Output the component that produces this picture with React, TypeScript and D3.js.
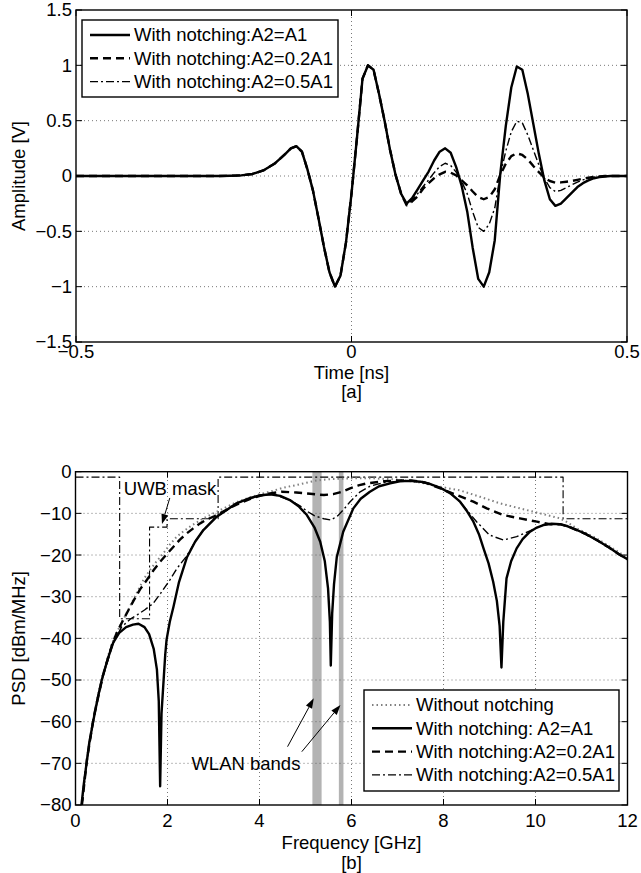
import React from "react";
import * as d3 from "d3";

// ---- panel [a]: time-domain pulses ----
const timeNs = [
  -0.5, -0.3, -0.24, -0.22, -0.2, -0.18, -0.16, -0.14, -0.12, -0.11, -0.1,
  -0.09, -0.08, -0.07, -0.06, -0.05, -0.04, -0.03, -0.02, -0.01, 0, 0.01,
  0.02, 0.03, 0.04, 0.05, 0.06, 0.07, 0.08, 0.09, 0.1, 0.11, 0.12, 0.13, 0.14,
  0.15, 0.16, 0.17, 0.18, 0.19, 0.2, 0.21, 0.22, 0.23, 0.24, 0.25, 0.26, 0.27,
  0.28, 0.29, 0.3, 0.31, 0.32, 0.33, 0.34, 0.35, 0.36, 0.37, 0.38, 0.39, 0.4,
  0.41, 0.42, 0.43, 0.44, 0.45, 0.46, 0.47, 0.5,
];
const ampA1 = [
  0, 0, 0, 0.002, 0.006, 0.018, 0.05, 0.11, 0.2, 0.25, 0.27, 0.22, 0.06,
  -0.13, -0.38, -0.64, -0.87, -1.0, -0.9, -0.6, -0.16, 0.35, 0.88, 1.0, 0.96,
  0.74, 0.5, 0.235, 0.01, -0.16, -0.25, -0.2, -0.12, -0.04, 0.04, 0.14, 0.22,
  0.25, 0.21, 0.08, -0.09, -0.32, -0.65, -0.93, -1.0, -0.87, -0.58, 0.02, 0.45,
  0.8, 0.99, 0.96, 0.74, 0.47, 0.2, -0.04, -0.21, -0.27, -0.25, -0.2, -0.15,
  -0.1, -0.065, -0.04, -0.02, -0.01, -0.004, 0, 0,
];
const ampA02 = [
  0, 0, 0, 0.002, 0.006, 0.018, 0.05, 0.11, 0.2, 0.25, 0.27, 0.22, 0.06,
  -0.13, -0.38, -0.64, -0.87, -1.0, -0.9, -0.6, -0.16, 0.35, 0.88, 1.0, 0.96,
  0.74, 0.5, 0.235, 0.01, -0.16, -0.265, -0.23, -0.185, -0.115, -0.065, -0.02,
  0.015, 0.038, 0.03, 0.005, -0.04, -0.085, -0.14, -0.19, -0.21, -0.19, -0.12,
  0.01, 0.11, 0.18, 0.205, 0.19, 0.15, 0.09, 0.035, -0.015, -0.045, -0.06,
  -0.058, -0.052, -0.045, -0.035, -0.025, -0.015, -0.008, -0.003, 0, 0, 0,
];
const ampA05 = [
  0, 0, 0, 0.002, 0.006, 0.018, 0.05, 0.11, 0.2, 0.25, 0.27, 0.22, 0.06,
  -0.13, -0.38, -0.64, -0.87, -1.0, -0.9, -0.6, -0.16, 0.35, 0.88, 1.0, 0.96,
  0.74, 0.5, 0.235, 0.01, -0.16, -0.26, -0.22, -0.16, -0.095, -0.035, 0.03,
  0.085, 0.115, 0.095, 0.035, -0.05, -0.16, -0.325, -0.465, -0.5, -0.435,
  -0.29, 0.01, 0.225, 0.4, 0.495, 0.48, 0.37, 0.235, 0.1, -0.02, -0.105, -0.14,
  -0.13, -0.105, -0.08, -0.055, -0.035, -0.02, -0.01, -0.005, 0, 0, 0,
];

// ---- panel [b]: PSD, [GHz, dBm/MHz] ----
const psdNoNotch: [number, number][] = [
  [0.14, -80], [0.19, -74.5], [0.25, -69], [0.32, -63.5], [0.4, -58.5],
  [0.5, -53], [0.6, -48.5], [0.7, -44.5], [0.8, -41], [0.9, -38.5],
  [1.0, -36.3], [1.1, -34.2], [1.2, -32], [1.3, -29.8], [1.4, -27.6],
  [1.5, -25.5], [1.62, -23.6], [1.75, -21.7], [1.91, -19.6], [2.05, -17.5],
  [2.2, -15.6], [2.35, -14.3], [2.5, -13.1], [2.78, -11.2], [3.07, -9.6],
  [3.5, -7.3], [4.0, -5.4], [4.23, -4.8], [4.5, -3.9], [4.8, -3.2],
  [5.0, -2.7], [5.24, -2.1], [5.5, -1.8], [6.0, -1.6], [6.5, -1.6],
  [7.0, -1.9], [7.5, -2.6], [7.92, -3.6], [8.36, -4.5], [8.79, -6],
  [9.23, -7.6], [9.66, -8.8], [10.1, -10], [10.53, -11.2], [10.7, -12.2],
  [10.9, -13.6], [11.33, -16], [11.84, -19.5], [12, -20.7],
];
const psdA1: [number, number][] = [
  [0.13, -80], [0.18, -75], [0.24, -70], [0.3, -65], [0.39, -59.6],
  [0.48, -54.5], [0.57, -50], [0.7, -45], [0.82, -41], [0.95, -38.7],
  [1.1, -37.3], [1.25, -36.7], [1.37, -36.5], [1.5, -37.3], [1.6, -39],
  [1.7, -42.5], [1.77, -47.5], [1.81, -55], [1.84, -75.5], [1.87, -58],
  [1.91, -51], [1.95, -44], [1.98, -40.3], [2.05, -36], [2.13, -32.4],
  [2.25, -26.5], [2.42, -20.6], [2.6, -16.8], [2.78, -14], [3.07, -10.8],
  [3.5, -7.6], [3.8, -6.3], [4.0, -5.7], [4.23, -5.4], [4.45, -5.8],
  [4.66, -6.8], [4.85, -8.3], [5.03, -10.4], [5.2, -13.5], [5.32, -16.8],
  [5.42, -21.5], [5.49, -28], [5.53, -36], [5.55, -46.5], [5.58, -34],
  [5.62, -27], [5.68, -20.5], [5.82, -14.4], [6.04, -8.8], [6.2, -6.5],
  [6.4, -4.8], [6.6, -3.5], [6.84, -2.8], [7.05, -2.3], [7.27, -2.2],
  [7.5, -2.4], [7.7, -2.9], [7.92, -3.8], [8.15, -5.2], [8.36, -7.2],
  [8.5, -9.3], [8.65, -12], [8.77, -15], [8.87, -18.4], [8.98, -22],
  [9.08, -26.4], [9.16, -31], [9.22, -37], [9.26, -47], [9.3, -36],
  [9.37, -25.6], [9.47, -21.5], [9.59, -18.4], [9.72, -16.2], [9.88, -14.4],
  [10.03, -13.4], [10.17, -12.8], [10.35, -12.5], [10.53, -12.6],
  [10.7, -13.1], [10.9, -14], [11.1, -15], [11.33, -16.4], [11.6, -18.2],
  [11.84, -20], [12, -21],
];
const psdA02: [number, number][] = [
  [0.14, -80], [0.25, -69], [0.4, -58.7], [0.6, -48.8], [0.8, -41.4],
  [0.9, -38.6], [1.04, -35.5], [1.26, -31], [1.4, -28.3], [1.55, -26],
  [1.7, -23.6], [1.84, -21.6], [2.0, -19.6], [2.13, -18], [2.27, -16.3],
  [2.42, -14.8], [2.56, -13.6], [2.71, -12.4], [2.85, -11.5], [3.0, -10.8],
  [3.2, -9.6], [3.5, -7.9], [3.8, -6.5], [4.16, -5.3], [4.48, -4.8],
  [4.8, -5.0], [5.1, -5.3], [5.4, -5.6], [5.6, -5.4], [5.8, -4.8],
  [5.97, -4.0], [6.15, -3.3], [6.33, -2.8], [6.7, -2.3], [7.0, -2.1],
  [7.3, -2.1], [7.6, -2.6], [8.0, -4.3], [8.29, -5.6], [8.65, -7.2],
  [8.94, -8.8], [9.3, -10.4], [9.66, -11.2], [10.03, -12], [10.31, -12.6],
  [10.53, -12.6], [10.7, -13.1], [10.9, -14], [11.1, -15], [11.33, -16.4],
  [11.6, -18.2], [11.84, -20], [12, -21],
];
const psdA05: [number, number][] = [
  [0.14, -80], [0.25, -69.2], [0.4, -58.9], [0.6, -49], [0.8, -41.6],
  [1.0, -37.3], [1.2, -35.3], [1.35, -34.3], [1.5, -33.2], [1.69, -31.6],
  [1.85, -29.2], [2.05, -26], [2.2, -23.3], [2.42, -20.2], [2.6, -16.8],
  [2.78, -14], [3.07, -10.8], [3.5, -7.6], [4.0, -5.7], [4.3, -5.4],
  [4.66, -6.8], [4.88, -8.2], [5.05, -9.6], [5.2, -10.6], [5.4, -11.3],
  [5.55, -11.6], [5.7, -10.6], [5.85, -8.8], [5.97, -7.2], [6.18, -4.9],
  [6.4, -3.5], [6.7, -2.6], [7.0, -2.3], [7.27, -2.2], [7.5, -2.4],
  [7.7, -2.9], [7.92, -3.8], [8.15, -5.2], [8.36, -7.2], [8.55, -9.8],
  [8.72, -12], [9.0, -15.2], [9.3, -16.4], [9.59, -15.6], [9.88, -14.2],
  [10.03, -13.4], [10.17, -12.8], [10.35, -12.5], [10.53, -12.6],
  [10.7, -13.1], [10.9, -14], [11.1, -15], [11.33, -16.4], [11.6, -18.2],
  [11.84, -20], [12, -21],
];

// FCC indoor mask (shifted)
const uwbMaskFreq = [0, 0.96, 0.96, 1.61, 1.61, 1.99, 1.99, 3.1, 3.1, 10.6, 10.6, 12];
const uwbMaskDb = [-1.3, -1.3, -35.3, -35.3, -13.3, -13.3, -11.3, -11.3, -1.3, -1.3, -11.3, -11.3];
const wlanBands = [
  [5.15, 5.35],
  [5.725, 5.825],
];

const topXTicks = [-0.5, 0, 0.5];
const topYTicks = [-1.5, -1, -0.5, 0, 0.5, 1, 1.5];
const botXTicks = [0, 2, 4, 6, 8, 10, 12];
const botYTicks = [-80, -70, -60, -50, -40, -30, -20, -10, 0];

const topLegend = [
  "With notching:A2=A1",
  "With notching:A2=0.2A1",
  "With notching:A2=0.5A1",
];
const botLegend = [
  "Without notching",
  "With notching: A2=A1",
  "With notching:A2=0.2A1",
  "With notching:A2=0.5A1",
];

const font = "'Liberation Sans', Arial, Helvetica, sans-serif";
const fs = 18.5;
const fmt = d3.format("~g");

const lineStyles: Record<string, any> = {
  solid: { stroke: "#000", strokeWidth: 2.4 },
  dashed: { stroke: "#000", strokeWidth: 2.4, strokeDasharray: "8 5" },
  dashDot: { stroke: "#000", strokeWidth: 1.4, strokeDasharray: "8 3 2 3" },
  dotted: { stroke: "#808080", strokeWidth: 2, strokeDasharray: "1.5 3" },
};

const Grid = ({ x, y, xTicks, yTicks }: any) => {
  const [x0, x1] = x.range();
  const [y0, y1] = y.range();
  return (
    <g stroke="#555" strokeWidth={0.8} strokeDasharray="1 3">
      {xTicks
        .filter((t: number) => x(t) > x0 + 1 && x(t) < x1 - 1)
        .map((t: number) => (
          <line key={"gx" + t} x1={x(t)} x2={x(t)} y1={y0} y2={y1} />
        ))}
      {yTicks
        .filter((t: number) => y(t) < y0 - 1 && y(t) > y1 + 1)
        .map((t: number) => (
          <line key={"gy" + t} x1={x0} x2={x1} y1={y(t)} y2={y(t)} />
        ))}
    </g>
  );
};

const Axes = ({ x, y, xTicks, yTicks, xLabelY }: any) => {
  const [x0, x1] = x.range();
  const [y0, y1] = y.range();
  const tick = 6;
  return (
    <g fontFamily={font} fontSize={fs} fill="#000">
      <rect x={x0} y={y1} width={x1 - x0} height={y0 - y1}
        fill="none" stroke="#000" strokeWidth={1.4} />
      {xTicks.map((t: number) => (
        <g key={"tx" + t}>
          <line x1={x(t)} x2={x(t)} y1={y0} y2={y0 - tick} stroke="#000" strokeWidth={1} />
          <line x1={x(t)} x2={x(t)} y1={y1} y2={y1 + tick} stroke="#000" strokeWidth={1} />
          <text x={x(t)} y={xLabelY} textAnchor="middle">{fmt(t)}</text>
        </g>
      ))}
      {yTicks.map((t: number) => (
        <g key={"ty" + t}>
          <line x1={x0} x2={x0 + tick} y1={y(t)} y2={y(t)} stroke="#000" strokeWidth={1} />
          <line x1={x1} x2={x1 - tick} y1={y(t)} y2={y(t)} stroke="#000" strokeWidth={1} />
          <text x={x0 - 4} y={y(t)} dy="0.35em" textAnchor="end">{fmt(t)}</text>
        </g>
      ))}
    </g>
  );
};

const Legend = ({ x, y, w, h, labels, styles }: any) => {
  const rowH = 23.3;
  return (
    <g fontFamily={font} fontSize={fs}>
      <rect x={x} y={y} width={w} height={h} fill="#fff" stroke="#000" strokeWidth={1.4} />
      {labels.map((l: string, i: number) => {
        const cy = y + 15 + i * rowH;
        return (
          <g key={l}>
            <line x1={x + 8} x2={x + 48} y1={cy} y2={cy} fill="none" {...lineStyles[styles[i]]} />
            <text x={x + 52} y={cy} dy="0.35em">{l}</text>
          </g>
        );
      })}
    </g>
  );
};

const Arrow = ({ x1, y1, x2, y2 }: any) => {
  const a = Math.atan2(y2 - y1, x2 - x1);
  const L = 10, w = 3.5;
  const bx = x2 - L * Math.cos(a), by = y2 - L * Math.sin(a);
  const pts = [
    [x2, y2],
    [bx + w * Math.sin(a), by - w * Math.cos(a)],
    [bx - w * Math.sin(a), by + w * Math.cos(a)],
  ];
  return (
    <g>
      <line x1={x1} y1={y1} x2={bx} y2={by} stroke="#000" strokeWidth={1} />
      <polygon points={pts.map((p) => p.join(",")).join(" ")} fill="#000" />
    </g>
  );
};

export default function App() {
  // panel [a]
  const xT = d3.scaleLinear().domain([-0.5, 0.5]).range([76, 627]);
  const yT = d3.scaleLinear().domain([-1.5, 1.5]).range([342, 10]);
  const lineT = (vals: number[]) =>
    d3.line<number>().x((_, i) => xT(timeNs[i])).y((v) => yT(v))(vals) || "";

  // panel [b]
  const xF = d3.scaleLinear().domain([0, 12]).range([75.5, 627.5]);
  const yF = d3.scaleLinear().domain([-80, 0]).range([805, 471.7]);
  const lineF = d3.line<[number, number]>().x((d) => xF(d[0])).y((d) => yF(d[1]));
  const maskPath =
    d3.line<number>().x((f) => xF(f)).y((_, i) => yF(uwbMaskDb[i]))(uwbMaskFreq) || "";

  return (
    <svg width={641} height={873} style={{ position: "absolute", left: 0, top: 0, background: "#fff" }}>
      <defs>
        <clipPath id="clipT"><rect x={76} y={10} width={551} height={332} /></clipPath>
        <clipPath id="clipF"><rect x={75.5} y={471.7} width={552} height={333.3} /></clipPath>
      </defs>

      {/* ---------- [a] ---------- */}
      <Grid x={xT} y={yT} xTicks={topXTicks} yTicks={topYTicks} />
      <g clipPath="url(#clipT)" fill="none" strokeLinejoin="round">
        <path d={lineT(ampA1)} {...lineStyles.solid} />
        <path d={lineT(ampA02)} {...lineStyles.dashed} />
        <path d={lineT(ampA05)} {...lineStyles.dashDot} />
      </g>
      <Axes x={xT} y={yT} xTicks={topXTicks} yTicks={topYTicks} xLabelY={358} />
      <Legend x={82} y={20} w={256} h={77} labels={topLegend} styles={["solid", "dashed", "dashDot"]} />
      <g fontFamily={font} fontSize={fs} textAnchor="middle">
        <text x={351.5} y={379}>Time [ns]</text>
        <text x={351.5} y={398}>[a]</text>
        <text transform={`translate(25,${yT(0)}) rotate(-90)`}>Amplitude [V]</text>
      </g>

      {/* ---------- [b] ---------- */}
      <g clipPath="url(#clipF)">
        {wlanBands.map((b) => (
          <rect key={b[0]} x={xF(b[0])} y={yF(0)} width={xF(b[1]) - xF(b[0])}
            height={yF(-80) - yF(0)} fill="#b3b3b3" />
        ))}
      </g>
      <Grid x={xF} y={yF} xTicks={botXTicks} yTicks={botYTicks} />
      <g clipPath="url(#clipF)" fill="none" strokeLinejoin="round">
        <path d={maskPath} stroke="#000" strokeWidth={1.1} strokeDasharray="8 3 2 3" />
        <path d={lineF(psdNoNotch) || ""} {...lineStyles.dotted} />
        <path d={lineF(psdA1) || ""} {...lineStyles.solid} />
        <path d={lineF(psdA02) || ""} {...lineStyles.dashed} />
        <path d={lineF(psdA05) || ""} {...lineStyles.dashDot} />
      </g>
      <Axes x={xF} y={yF} xTicks={botXTicks} yTicks={botYTicks} xLabelY={827} />
      <Legend x={364} y={690} w={255} h={101} labels={botLegend}
        styles={["dotted", "solid", "dashed", "dashDot"]} />
      <g fontFamily={font} fontSize={fs}>
        <text x={xF(1.05)} y={yF(-5.6)}>UWB mask</text>
        <text x={xF(2.52)} y={yF(-71.6)}>WLAN bands</text>
        <text x={351.5} y={849} textAnchor="middle">Frequency [GHz]</text>
        <text x={351.5} y={869} textAnchor="middle">[b]</text>
        <text transform={`translate(25,${yF(-40)}) rotate(-90)`} textAnchor="middle">PSD [dBm/MHz]</text>
      </g>
      <Arrow x1={xF(2.05)} y1={yF(-6.3)} x2={xF(1.88)} y2={yF(-12.55)} />
      <Arrow x1={xF(4.61)} y1={yF(-66)} x2={xF(5.18)} y2={yF(-54.4)} />
      <Arrow x1={xF(4.92)} y1={yF(-67.2)} x2={xF(5.76)} y2={yF(-56)} />
    </svg>
  );
}
